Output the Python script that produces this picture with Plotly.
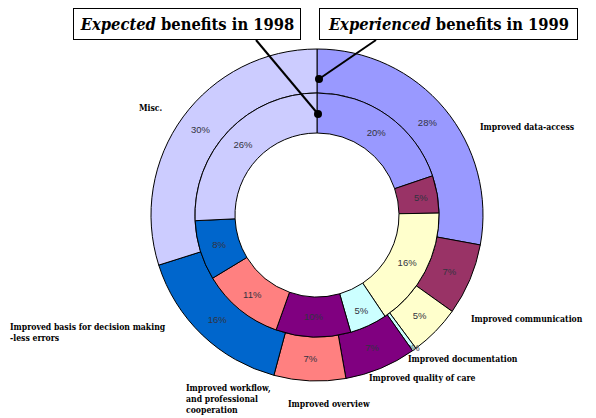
import plotly.graph_objects as go

# ---- data ----
categories = [
    "Improved data-access",
    "Improved communication",
    "Improved documentation",
    "Improved quality of care",
    "Improved overview",
    "Improved workflow, and professional cooperation",
    "Improved basis for decision making -less errors",
    "Misc.",
]
expected_1998 = [20, 5, 16, 5, 10, 11, 8, 26]
experienced_1999 = [28, 7, 5, 0.4, 7, 7, 16, 30]
colors = ["#9999FF", "#993366", "#FFFFCC", "#CCFFFF", "#800080", "#FF8080", "#0066CC", "#CCCCFF"]

# page body has an 8px margin; lay out in window pixel coordinates
OFF = 8
W, H = 588, 410

def px(x):
    return (x - OFF) / W

def py(y):
    return 1 - (y - OFF) / H

SANS = "Liberation Sans"
SERIF = "DejaVu Serif Condensed"

cx, cy = 317, 215
r_out, r_mid, r_hole = 166, 122, 82

fig = go.Figure()

common = dict(
    labels=categories,
    sort=False,
    direction="clockwise",
    rotation=0,
    marker=dict(colors=colors, line=dict(color="black", width=1)),
    texttemplate="%{value:.0f}%",
    textposition="inside",
    insidetextorientation="horizontal",
    textfont=dict(family=SANS, size=9.5, color="#333340"),
    showlegend=False,
    hoverinfo="label+value",
)

fig.add_trace(go.Pie(
    values=experienced_1999,
    hole=r_mid / r_out,
    domain=dict(x=[px(cx - r_out), px(cx + r_out)], y=[py(cy + r_out), py(cy - r_out)]),
    name="1999",
    **common,
))
fig.add_trace(go.Pie(
    values=expected_1998,
    hole=r_hole / r_mid,
    domain=dict(x=[px(cx - r_mid), px(cx + r_mid)], y=[py(cy + r_mid), py(cy - r_mid)]),
    name="1998",
    **common,
))

# category labels
label_texts = [
    "Improved data-access",
    "Improved communication",
    "Improved documentation",
    "Improved quality of care",
    "Improved overview",
    "Improved workflow,<br>and professional<br>cooperation",
    "Improved basis for decision making<br>-less errors",
    "Misc.",
]
label_pos = [(478, 127), (469, 319), (406, 359), (367, 378), (286, 404), (184, 399), (8, 332), (137, 108)]

annotations = []
for t, (x, y) in zip(label_texts, label_pos):
    annotations.append(dict(
        x=px(x), y=py(y), xref="paper", yref="paper", xanchor="left", yanchor="middle",
        text="<b>" + t + "</b>", showarrow=False, align="left",
        font=dict(family=SERIF, size=8.6, color="black"),
    ))

# title boxes
titles = ["<b><i>Expected</i> benefits in 1998</b>", "<b><i>Experienced</i> benefits in 1999</b>"]
boxes = [(73, 301), (319, 578)]
for t, (x0, x1) in zip(titles, boxes):
    annotations.append(dict(
        x=px((x0 + x1) / 2), y=py(24), xref="paper", yref="paper", xanchor="center", yanchor="middle",
        text=t, showarrow=False, width=x1 - x0 - 8, height=24, borderpad=3,
        bordercolor="black", borderwidth=1, bgcolor="white",
        font=dict(family=SERIF, size=16.4, color="black"),
    ))

shapes = []
# leader lines
lines = [((256, 40), (318, 114)), ((376, 40), (319, 79))]
for (x0, y0), (x1, y1) in lines:
    shapes.append(dict(type="line", xref="paper", yref="paper",
                       x0=px(x0), y0=py(y0), x1=px(x1), y1=py(y1),
                       line=dict(color="black", width=2)))
    shapes.append(dict(type="circle", xref="paper", yref="paper",
                       x0=px(x1 - 4), x1=px(x1 + 4), y0=py(y1 + 4), y1=py(y1 - 4),
                       fillcolor="black", line=dict(color="black", width=0)))

fig.update_layout(
    width=W, height=H,
    margin=dict(l=0, r=0, t=0, b=0),
    paper_bgcolor="white", plot_bgcolor="white",
    annotations=annotations, shapes=shapes,
    uniformtext=dict(minsize=9.5, mode="show"),
)

fig.write_html("out.html")
